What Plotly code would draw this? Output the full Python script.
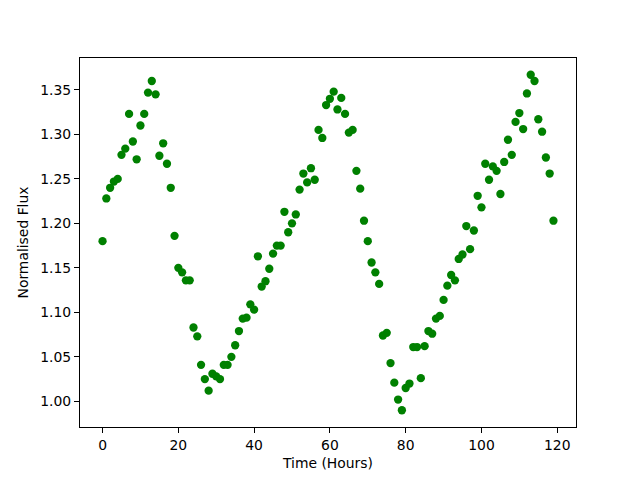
import plotly.graph_objects as go

hours = list(range(120))
flux = [
    1.180, 1.228, 1.240, 1.247, 1.250, 1.277, 1.284, 1.323, 1.292, 1.272,
    1.310, 1.323, 1.347, 1.360, 1.345, 1.276, 1.290, 1.267, 1.240, 1.186,
    1.150, 1.145, 1.136, 1.136, 1.083, 1.073, 1.041, 1.025, 1.012, 1.031,
    1.028, 1.025, 1.041, 1.041, 1.050, 1.063, 1.079, 1.093, 1.094, 1.109,
    1.103, 1.163, 1.129, 1.135, 1.149, 1.166, 1.175, 1.175, 1.213, 1.190,
    1.200, 1.210, 1.238, 1.256, 1.246, 1.262, 1.249, 1.305, 1.296, 1.333,
    1.340, 1.348, 1.328, 1.341, 1.323, 1.302, 1.305, 1.259, 1.239, 1.203,
    1.180, 1.156, 1.145, 1.132, 1.074, 1.077, 1.043, 1.021, 1.002, 0.990,
    1.015, 1.020, 1.061, 1.061, 1.026, 1.062, 1.079, 1.076, 1.093, 1.096,
    1.114, 1.130, 1.142, 1.136, 1.160, 1.165, 1.197, 1.171, 1.192, 1.231,
    1.218, 1.267, 1.249, 1.264, 1.259, 1.233, 1.269, 1.294, 1.277, 1.314,
    1.324, 1.306, 1.346, 1.367, 1.360, 1.317, 1.303, 1.274, 1.256, 1.203,
]
x_label = "Time (Hours)"
y_label = "Normalised Flux"


def pad(lo, hi, f=0.05):
    s = hi - lo
    return [lo - f * s, hi + f * s]


FONT = "DejaVu Sans"
fig = go.Figure(
    go.Scatter(
        x=hours, y=flux, mode="markers",
        marker=dict(color="#008000", size=8.3, line=dict(width=0)),
        hoverinfo="skip",
    )
)
axis_common = dict(
    showline=True, linecolor="black", linewidth=1.1, mirror=True,
    ticks="outside", ticklen=4.9, tickwidth=1.1, tickcolor="black",
    showgrid=False, zeroline=False,
    tickfont=dict(family=FONT, size=13.9, color="black"),
)
fig.update_xaxes(
    range=pad(min(hours), max(hours)), dtick=20, tick0=0,
    title=dict(text=x_label, font=dict(family=FONT, size=13.9, color="black"), standoff=6),
    **axis_common,
)
fig.update_yaxes(
    range=pad(min(flux), max(flux)), dtick=0.05, tick0=0, tickformat=".2f",
    title=dict(text=y_label, font=dict(family=FONT, size=13.9, color="black"), standoff=8),
    **axis_common,
)
fig.update_layout(
    width=640, height=480,
    margin=dict(l=80, r=64, t=58, b=53, pad=0),
    plot_bgcolor="white", paper_bgcolor="white",
    showlegend=False,
    font=dict(family=FONT, size=13.9, color="black"),
)
fig.write_html(
    "out.html",
    config={"displayModeBar": False, "staticPlot": True},
    post_script="document.body.style.margin='0';document.body.style.overflow='hidden';",
)
